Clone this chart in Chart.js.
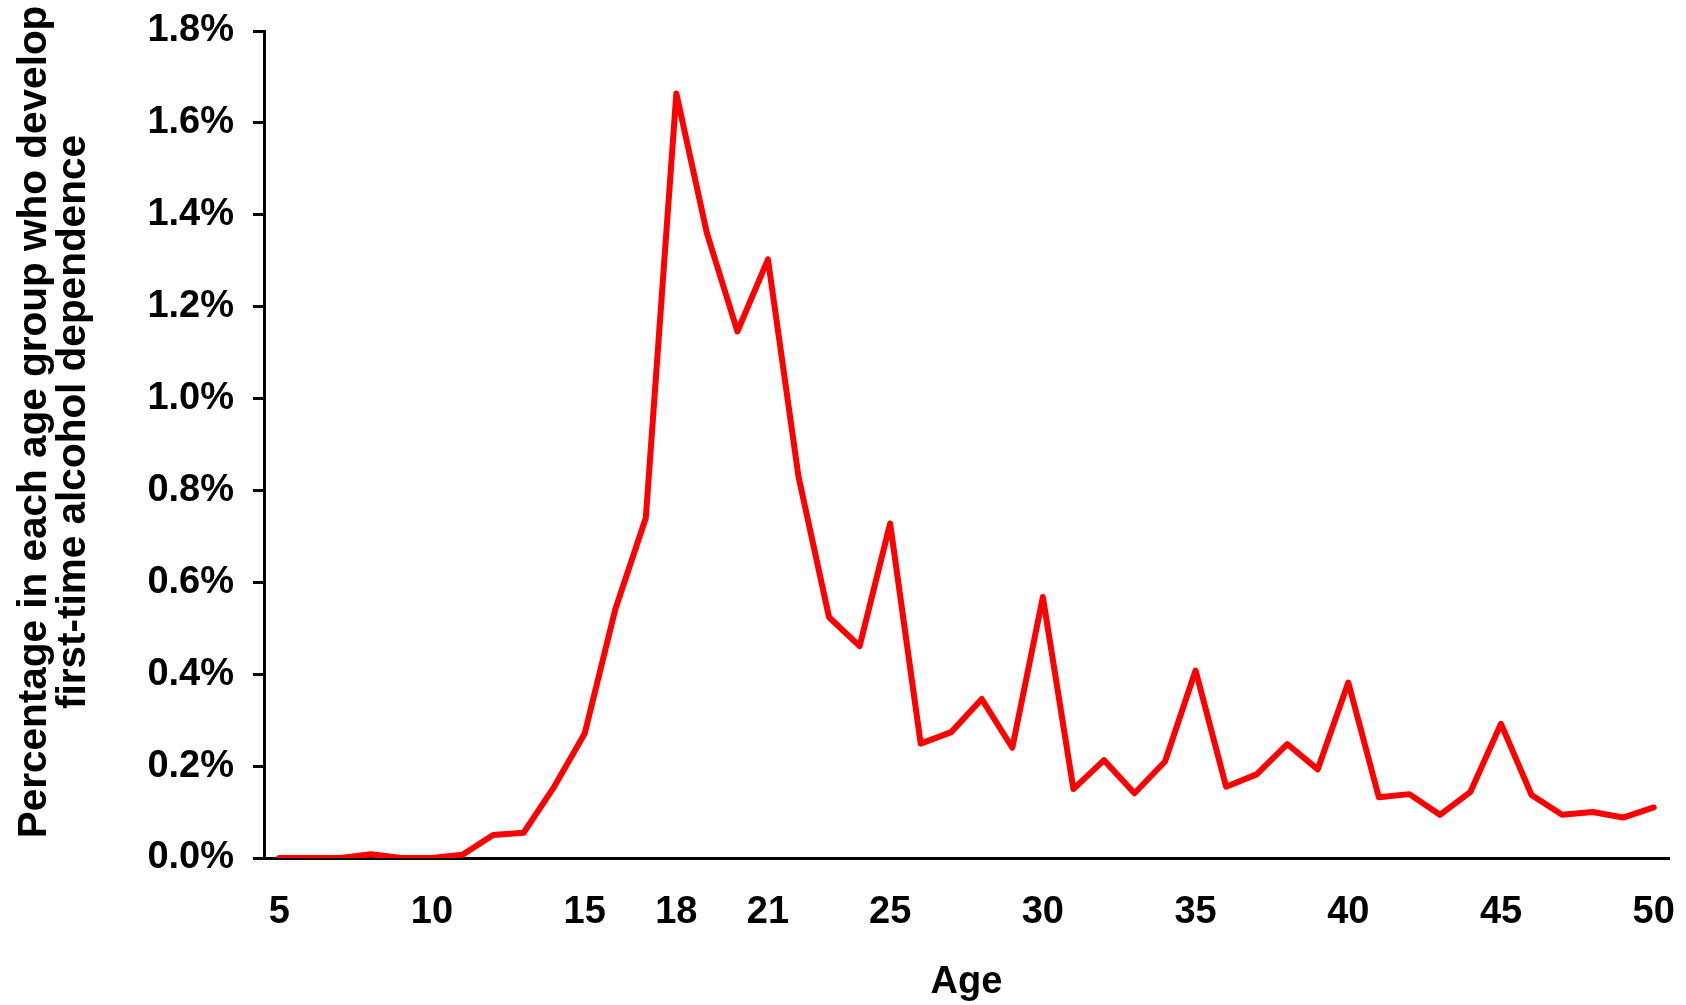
<!DOCTYPE html>
<html>
<head>
<meta charset="utf-8">
<script src="https://cdn.jsdelivr.net/npm/chart.js@4.4.1/dist/chart.umd.min.js"></script>
<style>
  html, body { margin: 0; padding: 0; background: #fff; }
  #wrap { width: 1686px; height: 1005px; position: relative; }
</style>
</head>
<body>
<div id="wrap"><canvas id="chart"></canvas></div>
<script>
// ages 5..50
const ages = [5, 6, 7, 8, 9, 10, 11, 12, 13, 14, 15, 16, 17, 18, 19, 20, 21, 22, 23, 24, 25, 26, 27,
  28, 29, 30, 31, 32, 33, 34, 35, 36, 37, 38, 39, 40, 41, 42, 43, 44, 45, 46, 47, 48, 49, 50];

// % of each age group developing first-time alcohol dependence
const onsetPct = [0.0, 0.0, 0.0, 0.008, 0.0, 0.0, 0.007, 0.05, 0.055, 0.155, 0.271, 0.541, 0.74,
  1.664, 1.36, 1.146, 1.303, 0.83, 0.524, 0.461, 0.728, 0.249, 0.274, 0.346, 0.24, 0.568, 0.15,
  0.213, 0.141, 0.21, 0.408, 0.155, 0.182, 0.248, 0.193, 0.382, 0.132, 0.139, 0.094, 0.144, 0.292,
  0.137, 0.094, 0.1, 0.088, 0.11];

const tickAges = [5, 10, 15, 18, 21, 25, 30, 35, 40, 45, 50];

// leading spaces nudge the centred title up a bit, like the original
const yTitle = ["    Percentage in each age group who develop", "    first-time alcohol dependence"];
const xTitle = "Age";

const tickFont = { family: "'Liberation Sans', Arial, sans-serif", size: 38, weight: "bold" };

const ctx = document.getElementById("chart").getContext("2d");
new Chart(ctx, {
  type: "line",
  data: {
    labels: ages,
    datasets: [
      {
        data: onsetPct,
        borderColor: "#ff0000",
        borderWidth: 6,
        borderJoinStyle: "round",
        borderCapStyle: "round",
        pointRadius: 0,
        tension: 0,
        fill: false,
      },
    ],
  },
  options: {
    responsive: true,
    maintainAspectRatio: false,
    animation: false,
    layout: { padding: { top: 31, right: 17, bottom: 0, left: 0 } },
    plugins: { legend: { display: false }, tooltip: { enabled: false } },
    scales: {
      x: {
        type: "category",
        offset: true,
        grid: { display: false, drawTicks: false },
        border: { display: true, color: "#000", width: 3 },
        ticks: {
          autoSkip: false,
          maxRotation: 0,
          padding: 32,
          color: "#000",
          font: tickFont,
          callback: function (val) {
            const age = ages[val];
            return tickAges.includes(age) ? String(age) : "";
          },
        },
        title: {
          display: true,
          text: xTitle,
          color: "#000",
          font: tickFont,
          padding: { top: 0, bottom: 0 },
        },
        afterFit: (scale) => {
          scale.height = 147;
          scale.paddingLeft = 0;
          scale.paddingRight = 0;
        },
      },
      y: {
        min: 0,
        max: 1.8,
        grid: {
          drawOnChartArea: false,
          drawTicks: true,
          tickLength: 11,
          color: "#000",
          lineWidth: 3,
        },
        border: { display: true, color: "#000", width: 3 },
        ticks: {
          stepSize: 0.2,
          padding: 19,
          color: "#000",
          font: tickFont,
          callback: (v) => v.toFixed(1) + "%",
        },
        title: {
          display: true,
          text: yTitle,
          color: "#000",
          font: { family: "'Liberation Sans', Arial, sans-serif", size: 40.5, weight: "bold", lineHeight: 0.95 },
          padding: { top: 16, bottom: 0 },
        },
        afterFit: (scale) => {
          scale.width = 264;
          scale.paddingTop = 0;
          scale.paddingBottom = 0;
        },
      },
    },
  },
});
</script>
</body>
</html>
